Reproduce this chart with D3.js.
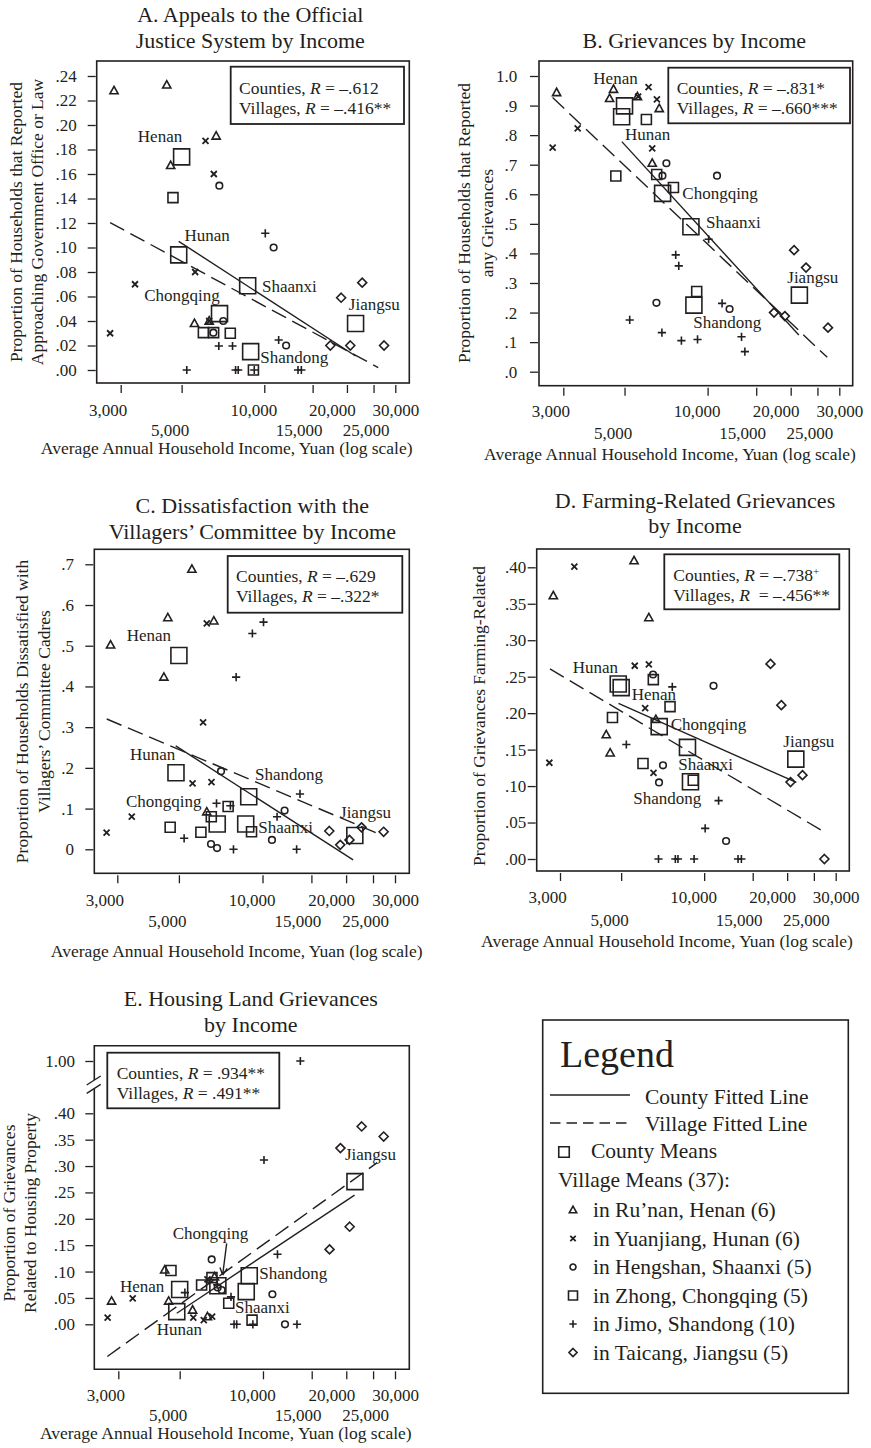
<!DOCTYPE html>
<html>
<head>
<meta charset="utf-8">
<script src="https://cdn.jsdelivr.net/npm/d3@7"></script>
<style>
body { margin: 0; background: #fff; }
svg { display: block; font-family: "Liberation Serif", "Times New Roman", serif; }
</style>
</head>
<body>
<svg id="chart" width="871" height="1448"></svg>
<script>
// ---- data ----
const counties = ["Henan", "Hunan", "Shaanxi", "Chongqing", "Shandong", "Jiangsu"];
const countyIncome = [5000, 4880, 8700, 6870, 8920, 21500];

const henanIncome = [2837, 4414, 4561, 5568, 6300, 6680];
const hunanIncome = [2745, 3382, 5600, 6110, 6300, 6550];
const shaanxiIncome = [6525, 6860, 7090, 10815, 12010];
const chongqingIncome = [4650, 6000, 6540, 7520, 9130];
const shandongIncome = [5221, 6830, 7663, 7861, 8036, 9194, 10084, 11282, 13270, 13646];
const jiangsuIncome = [17400, 19050, 20570, 22730, 27300];

const incomeTicks = [3000, 5000, 10000, 15000, 20000, 25000, 30000];
const incomeTickLabels = ["3,000", "5,000", "10,000", "15,000", "20,000", "25,000", "30,000"];
const lowerRowTicks = [5000, 15000, 25000];

// A. appeals to the official justice system
const appeals = {
  county:    [.174, .094, .0688, .046, .015, .038],
  henan:     [.228, .2327, .167, .038, .040, .191],
  hunan:     [.030, .070, .080, .187, .040, .160],
  shaanxi:   [.0305, .1505, .040, .100, .020],
  chongqing: [.1407, .0305, .0305, .030, .000],
  shandong:  [0, .0196, .0196, 0, 0, 0, .1116, .0245, 0, 0],
  jiangsu:   [.020, .059, .020, .0713, .020]
};
const appealsFit = {county: [[4880, .105], [21500, .0114]], village: [[2745, .1203], [26000, .002]]};
const appealsStats = [["Counties", " = \u2013.612", ""], ["Villages", " = \u2013.416**", ""]];
const appealsTicks = [0, .02, .04, .06, .08, .10, .12, .14, .16, .18, .20, .22, .24];

// B. grievances
const grievances = {
  county:    [.899, .862, .490, .603, .225, .259],
  henan:     [.944, .924, .955, .930, .705, .890],
  hunan:     [.758, .823, .930, .962, .755, .921],
  shaanxi:   [.233, .663, .705, .663, .212],
  chongqing: [.662, .853, .667, .623, .271],
  shandong:  [.175, .132, .395, .358, .105, .109, .448, .231, .118, .068],
  jiangsu:   [.200, .188, .411, .352, .149]
};
const grievancesFit = {county: [[4888, .778], [21400, .124]], village: [[2744, .927], [27130, .0485]]};
const grievancesStats = [["Counties", " = \u2013.831*", ""], ["Villages", " = \u2013.660***", ""]];
const grievancesTicks = [0, .1, .2, .3, .4, .5, .6, .7, .8, .9, 1.0];

// C. dissatisfaction with the villagers' committee
const dissatisfaction = {
  county:    [.476, .188, .062, .062, .129, .034],
  henan:     [.502, .423, .569, .688, .092, .561],
  hunan:     [.041, .080, .162, .312, .555, .165],
  shaanxi:   [.013, .003, .192, .023, .095],
  chongqing: [.054, .042, .080, .105, .043],
  shandong:  [.027, .113, .107, 0, .423, .530, .558, .080, 0, .136],
  jiangsu:   [.045, .011, .023, .054, .043]
};
const dissatisfactionFit = {county: [[4870, .254], [21200, -.026]], village: [[2748, .320], [26800, .035]]};
const dissatisfactionStats = [["Counties", " = \u2013.629", ""], ["Villages", " = \u2013.322*", ""]];
const dissatisfactionTicks = [0, .1, .2, .3, .4, .5, .6, .7];

// D. farming-related grievances
const farming = {
  county:    [.235, .240, .153, .1815, .106, .137],
  henan:     [.361, .1705, .1455, .409, .331, .1915],
  hunan:     [.132, .401, .265, .207, .267, .118],
  shaanxi:   [.253, .105, .1285, .2375, .0247],
  chongqing: [.194, .131, .246, .209, .108],
  shandong:  [.157, 0, .236, 0, 0, 0, .042, .080, 0, 0],
  jiangsu:   [.2675, .211, .1055, .115, 0]
};
const farmingFit = {county: [[4888, .2135], [21600, .105]], village: [[2759, .2606], [27510, .0361]]};
const farmingStats = [["Counties", " = \u2013.738", "+"], ["Villages", "  = \u2013.456**", ""]];
const farmingTicks = [0, .05, .10, .15, .20, .25, .30, .35, .40];

// E. housing land grievances
const housing = {
  county:    [.066, .024, .062, .073, .092, .2705],
  henan:     [.044, .103, .044, .027, .0145, .090],
  hunan:     [.0126, .049, .0126, .008, .085, .0145],
  shaanxi:   [.123, .070, .065, .057, 0],
  chongqing: [.102, .0745, .0885, .040, .008],
  shandong:  [.060, .075, .052, 0, 0, 0, .3115, .1327, 0, 1.00],
  jiangsu:   [.142, .334, .185, .375, .356]
};
const housingFit = {county: [[4879, .021], [21430, .245]], village: [[2738, -.061], [25880, .3065]]};
const housingStats = [["Counties", " = .934**", ""], ["Villages", " = .491**", ""]];
const housingTicks = [0, .05, .10, .15, .20, .25, .30, .35, .40, 1.00];

// ---- styling / layout ----
const ink = "#231f20";
const groups = [
  {key: "henan", income: henanIncome, shape: "triangle", legend: "in Ru\u2019nan, Henan (6)"},
  {key: "hunan", income: hunanIncome, shape: "cross", legend: "in Yuanjiang, Hunan (6)"},
  {key: "shaanxi", income: shaanxiIncome, shape: "circle", legend: "in Hengshan, Shaanxi (5)"},
  {key: "chongqing", income: chongqingIncome, shape: "square", legend: "in Zhong, Chongqing (5)"},
  {key: "shandong", income: shandongIncome, shape: "plus", legend: "in Jimo, Shandong (10)"},
  {key: "jiangsu", income: jiangsuIncome, shape: "diamond", legend: "in Taicang, Jiangsu (5)"}
];
const shapeSize = {triangle: 8.2, cross: 6, circle: 6.6, square: 10, plus: 8.2, diamond: 9};
// the printed tick labels sit a little left of their ticks
const tickLabelShift = [-13, -12, -11, -14, -15, -8, 0];

function symbolPath(shape, s) {
  const h = s / 2;
  if (shape === "triangle") return `M0,${-h * 1.05}L${h},${h * 0.75}L${-h},${h * 0.75}Z`;
  if (shape === "cross") return `M${-h},${-h}L${h},${h}M${-h},${h}L${h},${-h}`;
  if (shape === "circle") return `M${h},0A${h},${h} 0 1,1 ${-h},0A${h},${h} 0 1,1 ${h},0Z`;
  if (shape === "square") return `M${-h},${-h}H${h}V${h}H${-h}Z`;
  if (shape === "plus") return `M${-h},0H${h}M0,${-h}V${h}`;
  return `M0,${-h}L${h},0L0,${h}L${-h},0Z`;
}

const fmt2 = d => d === 1 ? "1.00" : d3.format(".2f")(d).replace(/^0/, "");
const fmt1 = d => d === 1 ? "1.0" : d3.format(".1f")(d).replace(/^0/, "");

const panels = [
  {data: appeals, fit: appealsFit, stats: appealsStats, yTicks: appealsTicks, yFormat: fmt2,
   box: [96.7, 61, 409.3, 383], xRange: [120.7, 395.3], yDomain: [0, .24], yRange: [370, 76], yPad: 11,
   title: ["A. Appeals to the Official", "Justice System by Income"], titleX: 250.3, titleY: [22.3, 48.3],
   yTitle: ["Proportion of Households that Reported", "Approaching Government Office or Law"], yTitleX: [21.5, 43], yTitleY: 222,
   xTitle: [226.7, 453.7], xRows: [33.3, 52.5],
   statsBox: [230.7, 66.7, 404, 124], statsText: [239, 94, 114],
   labels: [[-43.8, -15], [5.7, -14], [14.3, 6], [-75.3, -12.6], [9.6, 11], [-6.7, -13.4]]},
  {data: grievances, fit: grievancesFit, stats: grievancesStats, yTicks: grievancesTicks, yFormat: fmt1,
   box: [539, 61, 852.7, 385.7], xRange: [563.3, 839.3], yDomain: [0, 1], yRange: [371.7, 76], yPad: 12.7,
   title: ["B. Grievances by Income"], titleX: 694.3, titleY: [48.3],
   yTitle: ["Proportion of Households that Reported", "any Grievances"], yTitleX: [469.5, 493], yTitleY: 223,
   xTitle: [670, 460], xRows: [31, 53.6],
   statsBox: [668.3, 67.7, 850, 123.3], statsText: [676.7, 94.3, 114],
   labels: [[-31.2, -21.9], [3.4, 23.2], [15.1, 0.9], [19.7, 5.9], [-0.6, 23.1], [-12.1, -11.8]]},
  {data: dissatisfaction, fit: dissatisfactionFit, stats: dissatisfactionStats, yTicks: dissatisfactionTicks,
   yFormat: d => d === 0 ? "0" : fmt1(d),
   box: [94.3, 549.3, 409.3, 873.3], xRange: [117.3, 395], yDomain: [0, .7], yRange: [849.3, 564.3], yPad: 11.3,
   title: ["C. Dissatisfaction with the", "Villagers\u2019 Committee by Income"], titleX: 252.3, titleY: [513.3, 539.3],
   yTitle: ["Proportion of Households Dissatisfied with", "Villagers\u2019 Committee Cadres"], yTitleX: [28, 49.5], yTitleY: 711.5,
   xTitle: [236.7, 956.5], xRows: [32.7, 54],
   statsBox: [227.7, 556, 402.3, 612.7], statsText: [236, 582.3, 602.3],
   labels: [[-52.2, -14.8], [-46, -12.8], [12.6, 8.6], [-91.2, -16.8], [6.3, -16.8], [-14.8, -17.2]]},
  {data: farming, fit: farmingFit, stats: farmingStats, yTicks: farmingTicks, yFormat: fmt2,
   box: [536.7, 549, 849.3, 871], xRange: [560, 835.7], yDomain: [0, .4], yRange: [859, 567.3], yPad: 1.5,
   title: ["D. Farming-Related Grievances", "by Income"], titleX: 695, titleY: [507.7, 533.3],
   yTitle: ["Proportion of Grievances Farming-Related"], yTitleX: [484.5], yTitleY: 716,
   xTitle: [667, 947], xRows: [32.3, 55],
   statsBox: [664.3, 554.3, 839.3, 609.3], statsText: [673.3, 581, 601],
   labels: [[10.5, 12.4], [-45.6, -10.7], [-9.2, 22.6], [11.5, 3.4], [-57.2, 22.3], [-12.5, -12.4]]},
  {data: housing, fit: housingFit, stats: housingStats, yTicks: housingTicks, yFormat: fmt2,
   box: [94.3, 1045.7, 409.3, 1369.3], xRange: [118.3, 395], yDomain: [0, .4, 1], yRange: [1324.3, 1113.3, 1061], yPad: 10.3,
   title: ["E. Housing Land Grievances", "by Income"], titleX: 250.8, titleY: [1005.7, 1031.7],
   yTitle: ["Proportion of Grievances", "Related to Housing Property"], yTitleX: [14.5, 36], yTitleY: 1213,
   xTitle: [225.8, 1438.7], xRows: [31.4, 51.8],
   statsBox: [107.3, 1052.7, 279.3, 1108.3], statsText: [116.7, 1079, 1099],
   labels: [[-59.7, 2.2], [-20.1, 23.4], [-11.3, 21.7], [-45.2, -46.5], [10, 3.5], [-10, -21.6]],
   brokenAxis: true, arrowTo: "Chongqing"}
];

const svg = d3.select("#chart");
svg.append("rect").attr("width", 871).attr("height", 1448).attr("fill", "#fff");

function drawPanel(p) {
  const g = svg.append("g");
  const [x0, y0, x1, y1] = p.box;
  const x = d3.scaleLog().domain([3000, 30000]).range(p.xRange);
  const y = d3.scaleLinear().domain(p.yDomain).range(p.yRange);

  // title
  const title = g.append("text").attr("text-anchor", "middle").attr("font-size", 22).attr("fill", ink);
  p.title.forEach((line, i) => title.append("tspan").attr("x", p.titleX).attr("y", p.titleY[i]).text(line));

  // frame
  if (p.brokenAxis) {
    g.append("path")
      .attr("d", `M${x0},1080V${y0}H${x1}V${y1}H${x0}V1089`)
      .attr("fill", "none").attr("stroke", ink).attr("stroke-width", 1.6);
    [0, 8.3].forEach(o => g.append("line")
      .attr("x1", x0 - 7.6).attr("y1", 1085 + o).attr("x2", x0 + 6.4).attr("y2", 1076 + o)
      .attr("stroke", ink).attr("stroke-width", 1.4));
  } else {
    g.append("rect").attr("x", x0).attr("y", y0).attr("width", x1 - x0).attr("height", y1 - y0)
      .attr("fill", "none").attr("stroke", ink).attr("stroke-width", 1.6);
  }

  // x axis, labels on two rows
  const xa = g.append("g").attr("transform", `translate(0,${y1 + 2})`)
    .call(d3.axisBottom(x).tickValues(incomeTicks)
      .tickFormat(d => incomeTickLabels[incomeTicks.indexOf(d)])
      .tickSizeInner(8).tickSizeOuter(0));
  xa.attr("font-family", null).attr("font-size", 17).attr("color", ink);
  xa.select(".domain").remove();
  xa.selectAll("line").attr("stroke-width", 1.3);
  xa.selectAll("text").attr("dy", null)
    .attr("x", d => tickLabelShift[incomeTicks.indexOf(d)])
    .attr("y", d => (lowerRowTicks.includes(d) ? p.xRows[1] : p.xRows[0]) - 2);

  // y axis
  const ya = g.append("g").attr("transform", `translate(${x0 - 1},0)`)
    .call(d3.axisLeft(y).tickValues(p.yTicks).tickFormat(p.yFormat)
      .tickSizeInner(8).tickSizeOuter(0).tickPadding(p.yPad));
  ya.attr("font-family", null).attr("font-size", 17).attr("color", ink);
  ya.select(".domain").remove();
  ya.selectAll("line").attr("stroke-width", 1.3);

  // axis titles
  g.append("text").attr("x", p.xTitle[0]).attr("y", p.xTitle[1]).attr("text-anchor", "middle")
    .attr("font-size", 17.5).attr("fill", ink).text("Average Annual Household Income, Yuan (log scale)");
  p.yTitle.forEach((line, i) => g.append("text")
    .attr("transform", `translate(${p.yTitleX[i]},${p.yTitleY}) rotate(-90)`)
    .attr("text-anchor", "middle").attr("font-size", 17.5).attr("fill", ink).text(line));

  // fitted lines
  const line = d3.line().x(d => x(d[0])).y(d => y(d[1]));
  g.append("path").datum(p.fit.village).attr("d", line)
    .attr("fill", "none").attr("stroke", ink).attr("stroke-width", 1.4).attr("stroke-dasharray", "16,7");
  g.append("path").datum(p.fit.county).attr("d", line)
    .attr("fill", "none").attr("stroke", ink).attr("stroke-width", 1.4);

  // village means
  groups.forEach(gr => {
    g.append("g").selectAll("path")
      .data(gr.income.map((inc, i) => [inc, p.data[gr.key][i]]))
      .join("path")
      .attr("transform", d => `translate(${x(d[0])},${y(d[1])})`)
      .attr("d", symbolPath(gr.shape, shapeSize[gr.shape]))
      .attr("fill", "none").attr("stroke", ink)
      .attr("stroke-width", gr.shape === "cross" ? 1.8 : 1.6);
  });

  // county means
  const cm = counties.map((c, i) => ({name: c, inc: countyIncome[i], v: p.data.county[i], off: p.labels[i]}));
  g.append("g").selectAll("path").data(cm).join("path")
    .attr("transform", d => `translate(${x(d.inc)},${y(d.v)})`)
    .attr("d", symbolPath("square", 16))
    .attr("fill", "none").attr("stroke", ink).attr("stroke-width", 1.6);
  g.append("g").selectAll("text").data(cm).join("text")
    .attr("x", d => x(d.inc) + d.off[0]).attr("y", d => y(d.v) + d.off[1])
    .attr("font-size", 17).attr("fill", ink).text(d => d.name);

  if (p.arrowTo) {
    const d = cm.find(c => c.name === p.arrowTo);
    const cx = x(d.inc), cy = y(d.v);
    const sx = cx + 8.8, sy = cy - 42.5, ex = cx + 4.8, ey = cy - 10.8;
    const ang = Math.atan2(ey - sy, ex - sx);
    const head = [ang + Math.PI * 0.85, ang - Math.PI * 0.85]
      .map(a => `M${ex},${ey}L${ex + 8 * Math.cos(a)},${ey + 8 * Math.sin(a)}`).join("");
    g.append("path").attr("d", `M${sx},${sy}L${ex},${ey}` + head)
      .attr("fill", "none").attr("stroke", ink).attr("stroke-width", 1.4);
  }

  // correlation box
  const [bx0, by0, bx1, by1] = p.statsBox;
  g.append("rect").attr("x", bx0).attr("y", by0).attr("width", bx1 - bx0).attr("height", by1 - by0)
    .attr("fill", "#fff").attr("stroke", ink).attr("stroke-width", 1.8);
  p.stats.forEach((s, i) => {
    const t = g.append("text").attr("x", p.statsText[0]).attr("y", p.statsText[i + 1])
      .attr("font-size", 17.5).attr("fill", ink).attr("xml:space", "preserve");
    t.append("tspan").text(s[0] + ", ");
    t.append("tspan").attr("font-style", "italic").text("R");
    t.append("tspan").text(s[1]);
    if (s[2]) t.append("tspan").attr("font-size", 11).attr("dy", -6).text(s[2]);
  });
}

panels.forEach(drawPanel);

// ---- legend ----
const lg = svg.append("g");
lg.append("rect").attr("x", 542.7).attr("y", 1020).attr("width", 305.6).attr("height", 373.3)
  .attr("fill", "none").attr("stroke", ink).attr("stroke-width", 1.6);
lg.append("text").attr("x", 560).attr("y", 1067).attr("font-size", 38).attr("fill", ink).text("Legend");
lg.append("line").attr("x1", 550).attr("x2", 630).attr("y1", 1095).attr("y2", 1095)
  .attr("stroke", ink).attr("stroke-width", 1.4);
lg.append("text").attr("x", 645).attr("y", 1104).attr("font-size", 21.5).attr("fill", ink).text("County Fitted Line");
lg.append("line").attr("x1", 550).attr("x2", 630).attr("y1", 1123).attr("y2", 1123)
  .attr("stroke", ink).attr("stroke-width", 1.4).attr("stroke-dasharray", "10.5,6");
lg.append("text").attr("x", 645).attr("y", 1131).attr("font-size", 21.5).attr("fill", ink).text("Village Fitted Line");
lg.append("path").attr("transform", "translate(564,1152)").attr("d", symbolPath("square", 10.5))
  .attr("fill", "none").attr("stroke", ink).attr("stroke-width", 1.6);
lg.append("text").attr("x", 591).attr("y", 1158).attr("font-size", 21.5).attr("fill", ink).text("County Means");
lg.append("text").attr("x", 558).attr("y", 1187).attr("font-size", 21.5).attr("fill", ink).text("Village Means (37):");
groups.forEach((gr, i) => {
  const by = 1217 + i * 28.5;
  lg.append("path").attr("transform", `translate(573,${by - 7})`)
    .attr("d", symbolPath(gr.shape, shapeSize[gr.shape] * 0.9))
    .attr("fill", "none").attr("stroke", ink).attr("stroke-width", gr.shape === "cross" ? 1.8 : 1.6);
  lg.append("text").attr("x", 593).attr("y", by).attr("font-size", 21.5).attr("fill", ink).text(gr.legend);
});
</script>
</body>
</html>
